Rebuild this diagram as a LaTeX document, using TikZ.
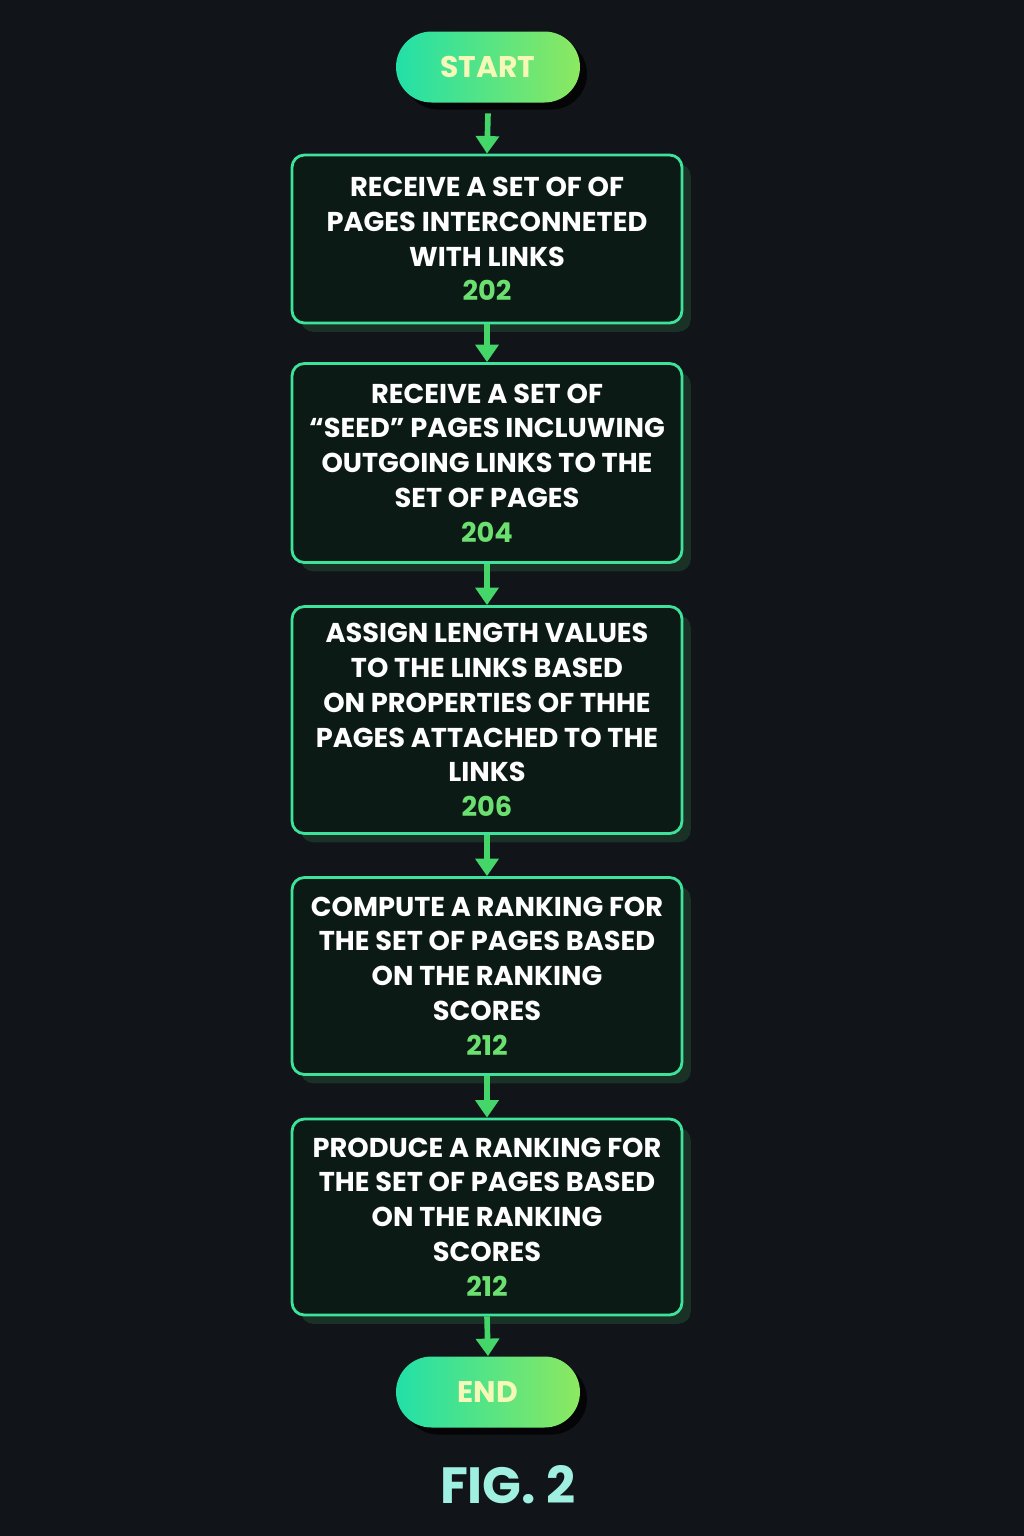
\documentclass[tikz,border=0pt]{standalone}
\usepackage{fontspec}
\setmainfont{Poppins}
\usetikzlibrary{arrows.meta, positioning, shadows}

\definecolor{bgdark}{HTML}{111418}
\definecolor{boxfill}{HTML}{0C1A15}
\definecolor{boxline}{HTML}{3DE39A}
\definecolor{boxshade}{HTML}{1A3226}
\definecolor{arrowgreen}{HTML}{45D66A}
\definecolor{numgreen}{HTML}{6BE070}
\definecolor{pillleft}{HTML}{22E0A8}
\definecolor{pillright}{HTML}{8CE860}
\definecolor{pilltext}{HTML}{F6F8B8}
\definecolor{figcyan}{HTML}{9FF0E0}

\begin{document}
\begin{tikzpicture}[
    x=0.02cm, y=-0.02cm,
    >={Triangle[length=10pt, width=13pt]},
    stepbox/.style={draw=boxline, line width=1.6pt, fill=boxfill,
                    rounded corners=7pt, minimum width=7.8cm,
                    align=center, text=white,
                    font=\fontsize{15.5}{19.8}\selectfont\bfseries,
                    drop shadow={shadow xshift=5pt, shadow yshift=-5pt,
                                 fill=boxshade, opacity=1}},
    term/.style={rounded corners=0.71cm, minimum width=3.68cm,
                 minimum height=1.42cm, left color=pillleft,
                 right color=pillright, text=pilltext,
                 font=\fontsize{17}{20}\selectfont\bfseries,
                 drop shadow={shadow xshift=4pt, shadow yshift=-4pt,
                              fill=black, opacity=0.7}},
    flow/.style={->, line width=3.2pt, arrowgreen}
  ]
  \fill[bgdark] (0,0) rectangle (1024,1536);

  % terminals
  \node[term] (start) at (488,67) {START};
  \node[term] (end) at (488,1392) {END};

  % steps
  \node[stepbox, minimum height=3.36cm] (s202) at (487,239)
    {RECEIVE A SET OF OF\\PAGES INTERCONNETED\\WITH LINKS\\
     \textcolor{numgreen}{202}};
  \node[stepbox, minimum height=3.98cm] (s204) at (487,463)
    {RECEIVE A SET OF\\``SEED'' PAGES INCLUWING\\OUTGOING LINKS TO THE\\
     SET OF PAGES\\\textcolor{numgreen}{204}};
  \node[stepbox, minimum height=4.54cm] (s206) at (487,720)
    {ASSIGN LENGTH VALUES\\TO THE LINKS BASED\\ON PROPERTIES OF THHE\\
     PAGES ATTACHED TO THE\\LINKS\\\textcolor{numgreen}{206}};
  \node[stepbox, minimum height=3.94cm] (s212a) at (487,976)
    {COMPUTE A RANKING FOR\\THE SET OF PAGES BASED\\ON THE RANKING\\
     SCORES\\\textcolor{numgreen}{212}};
  \node[stepbox, minimum height=3.92cm] (s212b) at (487,1217)
    {PRODUCE A RANKING FOR\\THE SET OF PAGES BASED\\ON THE RANKING\\
     SCORES\\\textcolor{numgreen}{212}};

  % connectors
  \draw[flow] ([yshift=-6pt]start.south) -- (s202.north);
  \draw[flow] (s202.south) -- (s204.north);
  \draw[flow] (s204.south) -- (s206.north);
  \draw[flow] (s206.south) -- (s212a.north);
  \draw[flow] (s212a.south) -- (s212b.north);
  \draw[flow] (s212b.south) -- (end.north);

  \node[text=figcyan, font=\fontsize{29}{34}\selectfont\bfseries]
    (fig) at (508,1485) {FIG. 2};
\end{tikzpicture}
\end{document}
